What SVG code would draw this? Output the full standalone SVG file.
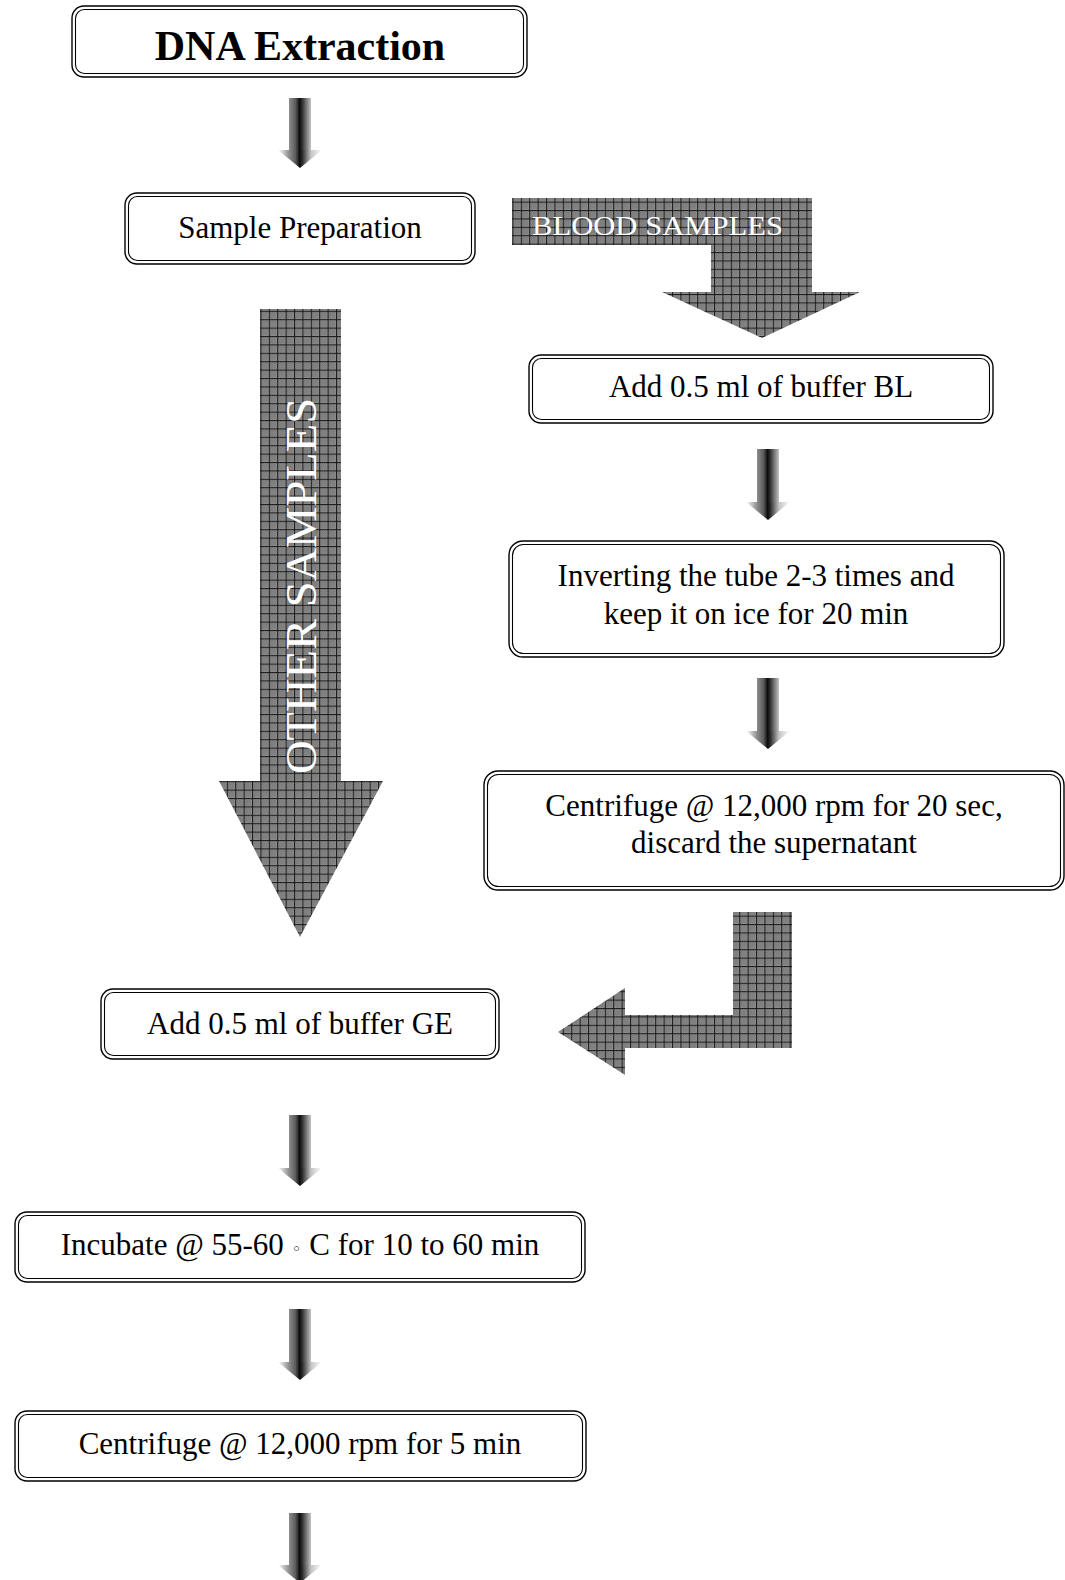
<svg xmlns="http://www.w3.org/2000/svg" width="1065" height="1580" viewBox="0 0 1065 1580">
<style>
.o{fill:#fff;stroke:#000;stroke-width:1.4}
.i{fill:none;stroke:#000;stroke-width:1.1}
.t{font-family:"Liberation Serif","Times New Roman",serif;font-size:31px;fill:#000;text-anchor:middle}
.w{font-family:"Liberation Serif","Times New Roman",serif;fill:#fff}
.big{fill:url(#grid)}
.sh{fill:url(#shaftG)}
.hd{fill:url(#headG)}
.d{fill:#5e5e5e}
</style>
<defs>
<pattern id="grid" patternUnits="userSpaceOnUse" width="8.4" height="8.4">
<rect width="8.4" height="8.4" fill="#9c9c9c"/>
<rect class="d" x="1" y="1" width="1" height="1"/><rect class="d" x="3" y="1" width="1" height="1"/><rect class="d" x="5" y="1" width="1" height="1"/><rect class="d" x="7" y="1" width="1" height="1"/>
<rect class="d" x="2" y="2" width="1" height="1"/><rect class="d" x="4" y="2" width="1" height="1"/><rect class="d" x="6" y="2" width="1" height="1"/>
<rect class="d" x="1" y="3" width="1" height="1"/><rect class="d" x="3" y="3" width="1" height="1"/><rect class="d" x="5" y="3" width="1" height="1"/><rect class="d" x="7" y="3" width="1" height="1"/>
<rect class="d" x="2" y="4" width="1" height="1"/><rect class="d" x="4" y="4" width="1" height="1"/><rect class="d" x="6" y="4" width="1" height="1"/>
<rect class="d" x="1" y="5" width="1" height="1"/><rect class="d" x="3" y="5" width="1" height="1"/><rect class="d" x="5" y="5" width="1" height="1"/><rect class="d" x="7" y="5" width="1" height="1"/>
<rect class="d" x="2" y="6" width="1" height="1"/><rect class="d" x="4" y="6" width="1" height="1"/><rect class="d" x="6" y="6" width="1" height="1"/>
<rect class="d" x="1" y="7" width="1" height="1"/><rect class="d" x="3" y="7" width="1" height="1"/><rect class="d" x="5" y="7" width="1" height="1"/><rect class="d" x="7" y="7" width="1" height="1"/>
<rect x="0" y="0" width="8.4" height="1" fill="#1c1c1c"/>
<rect x="0" y="0" width="1" height="8.4" fill="#1c1c1c"/>
</pattern>
<linearGradient id="shaftG" x1="0" y1="0" x2="1" y2="0">
<stop offset="0" stop-color="#8e8e8e"/>
<stop offset="0.3" stop-color="#5a5a5a"/>
<stop offset="0.48" stop-color="#0c0c0c"/>
<stop offset="0.58" stop-color="#2a2a2a"/>
<stop offset="1" stop-color="#c4c4c4"/>
</linearGradient>
<linearGradient id="headG" x1="0" y1="0" x2="1" y2="0">
<stop offset="0" stop-color="#ffffff"/>
<stop offset="0.25" stop-color="#8e8e8e"/>
<stop offset="0.4" stop-color="#5a5a5a"/>
<stop offset="0.49" stop-color="#0c0c0c"/>
<stop offset="0.55" stop-color="#2a2a2a"/>
<stop offset="0.75" stop-color="#c4c4c4"/>
<stop offset="1" stop-color="#ffffff"/>
</linearGradient>
</defs>

<g id="connectors">
<g id="arrow1"><rect class="sh" x="289" y="98" width="22" height="52"/><polygon class="hd" points="278,150 322,150 300,168"/></g>
<g id="arrow2"><rect class="sh" x="757" y="449" width="22" height="53"/><polygon class="hd" points="746,502 790,502 768,520"/></g>
<g id="arrow3"><rect class="sh" x="757" y="678" width="22" height="53"/><polygon class="hd" points="746,731 790,731 768,749"/></g>
<g id="arrow4"><rect class="sh" x="289" y="1115" width="22" height="53"/><polygon class="hd" points="278,1168 322,1168 300,1186"/></g>
<g id="arrow5"><rect class="sh" x="289" y="1309" width="22" height="53"/><polygon class="hd" points="278,1362 322,1362 300,1380"/></g>
<g id="arrow6"><rect class="sh" x="289" y="1513" width="22" height="52"/><polygon class="hd" points="278,1565 322,1565 300,1583"/></g>
<g id="bloodArrow">
<polygon class="big" points="512,198 812,198 812,292 860,292 762,338 662,292 711,292 711,245 512,245"/>
<text class="w" x="532" y="235" font-size="28" textLength="251" lengthAdjust="spacingAndGlyphs">BLOOD SAMPLES</text>
</g>
<g id="otherArrow">
<polygon class="big" points="260,309 341,309 341,781 383,781 300,937 219,781 260,781"/>
<text class="w" transform="translate(316,586) rotate(-90)" x="0" y="0" font-size="44" text-anchor="middle" textLength="376" lengthAdjust="spacingAndGlyphs">OTHER SAMPLES</text>
</g>
<g id="returnArrow">
<polygon class="big" points="733,912 792,912 792,1048 625,1048 625,1075 558,1032 625,988 625,1015 733,1015"/>
</g>
</g>

<g id="n-dna">
<rect class="o" x="72" y="6" width="455" height="71" rx="12"/>
<rect class="i" x="75.5" y="9.5" width="448" height="64" rx="9"/>
<text class="t" x="300" y="60" font-weight="bold" style="font-size:42px">DNA Extraction</text>
</g>
<g id="n-sample">
<rect class="o" x="125" y="193" width="350" height="71" rx="12"/>
<rect class="i" x="128.5" y="196.5" width="343" height="64" rx="9"/>
<text class="t" x="300" y="238">Sample Preparation</text>
</g>
<g id="n-bl">
<rect class="o" x="529" y="355" width="464" height="68" rx="12"/>
<rect class="i" x="532.5" y="358.5" width="457" height="61" rx="9"/>
<text class="t" x="761" y="397">Add 0.5 ml of buffer BL</text>
</g>
<g id="n-invert">
<rect class="o" x="509" y="541" width="495" height="116" rx="14"/>
<rect class="i" x="512.5" y="544.5" width="488" height="109" rx="11"/>
<text class="t" x="756" y="586">Inverting the tube 2-3 times and</text>
<text class="t" x="756" y="624">keep it on ice for 20 min</text>
</g>
<g id="n-cent20">
<rect class="o" x="484" y="771" width="580" height="119" rx="14"/>
<rect class="i" x="487.5" y="774.5" width="573" height="112" rx="11"/>
<text class="t" x="774" y="816">Centrifuge @ 12,000 rpm for 20 sec,</text>
<text class="t" x="774" y="853">discard the supernatant</text>
</g>
<g id="n-ge">
<rect class="o" x="101" y="989" width="398" height="70" rx="12"/>
<rect class="i" x="104.5" y="992.5" width="391" height="63" rx="9"/>
<text class="t" x="300" y="1034">Add 0.5 ml of buffer GE</text>
</g>
<g id="n-incubate">
<rect class="o" x="15" y="1212" width="570" height="70" rx="12"/>
<rect class="i" x="18.5" y="1215.5" width="563" height="63" rx="9"/>
<text class="t" x="300" y="1255">Incubate @ 55-60 <tspan font-family="'DejaVu Sans',sans-serif" font-size="17">◦</tspan> C for 10 to 60 min</text>
</g>
<g id="n-cent5">
<rect class="o" x="15" y="1411" width="571" height="70" rx="12"/>
<rect class="i" x="18.5" y="1414.5" width="564" height="63" rx="9"/>
<text class="t" x="300" y="1454">Centrifuge @ 12,000 rpm for 5 min</text>
</g>
</svg>
